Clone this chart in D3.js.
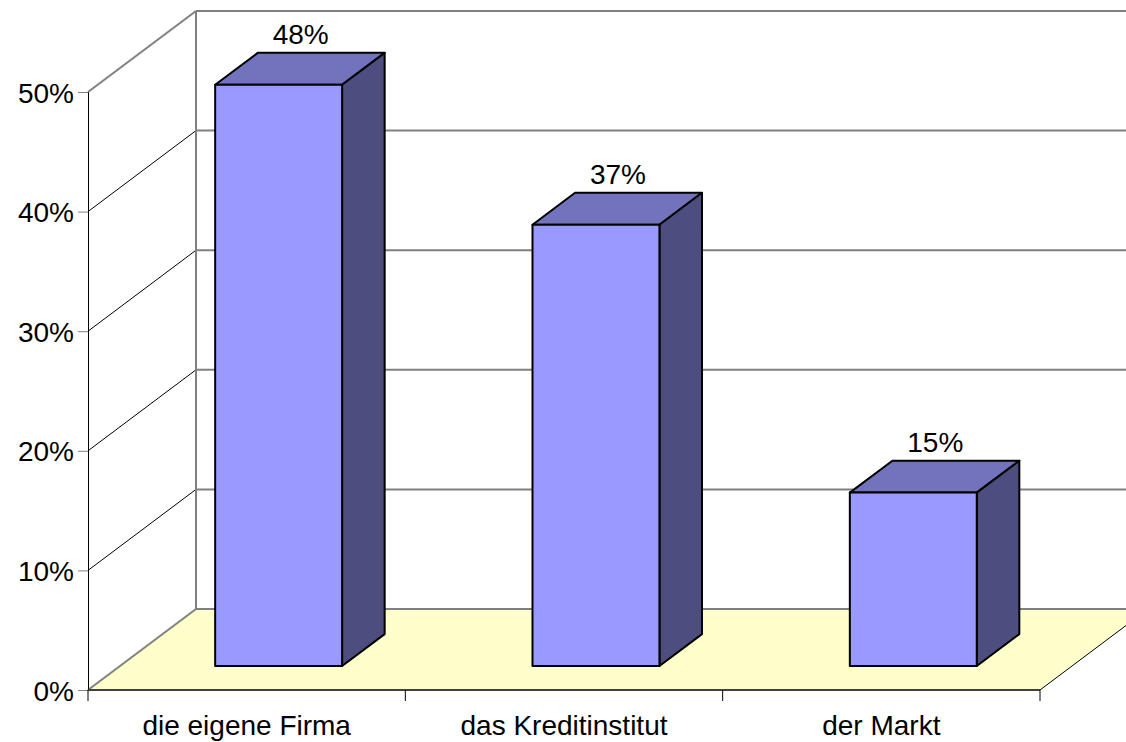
<!DOCTYPE html>
<html>
<head>
<meta charset="utf-8">
<script src="https://d3js.org/d3.v7.min.js"></script>
<style>
  html, body { margin: 0; padding: 0; background: #fff; }
  svg { display: block; }
  text { font-family: "Liberation Sans", Arial, sans-serif; font-size: 28px; fill: #000; }
</style>
</head>
<body>
<svg width="1126" height="742"></svg>
<script>
const categories = ["die eigene Firma", "das Kreditinstitut", "der Markt"];
const values = [48.6, 36.9, 14.5];
const valueLabels = ["48%", "37%", "15%"];
const yTicks = [0, 10, 20, 30, 40, 50];

const svg = d3.select("svg");

const x = d3.scaleBand().domain(categories).range([88, 1040]);
const y = d3.scaleLinear().domain([0, 50]).range([690, 92]);

// depth of the 3d box: z goes 0 (front) to 1 (back wall)
const depthX = 108, depthY = 81;
const px = (xv, z) => xv + depthX * z;
const py = (yv, z) => yv - depthY * z;

const line = d3.line();
const poly = pts => line(pts) + "Z";

const xMin = 88, xMax = 1040;

/* -----------------------------
   Floor and walls
----------------------------- */

svg.append("path")
  .attr("d", poly([[xMin, y(0)], [xMax, y(0)], [px(xMax, 1), py(y(0), 1)], [px(xMin, 1), py(y(0), 1)]]))
  .attr("fill", "#FFFFCC");

// back wall grid
svg.selectAll(".grid")
  .data(yTicks)
  .enter()
  .append("line")
  .attr("x1", px(xMin, 1))
  .attr("x2", px(xMax, 1))
  .attr("y1", d => py(y(d), 1))
  .attr("y2", d => py(y(d), 1))
  .attr("stroke", "#808080")
  .attr("stroke-width", 2);

// side wall grid, the outer two are grey
svg.selectAll(".side")
  .data(yTicks)
  .enter()
  .append("line")
  .attr("x1", px(xMin, 0))
  .attr("x2", px(xMin, 1))
  .attr("y1", d => y(d))
  .attr("y2", d => py(y(d), 1))
  .attr("stroke", d => d === 0 || d === 50 ? "#808080" : "#000")
  .attr("stroke-width", d => d === 0 || d === 50 ? 2 : 1);

// back wall left edge
svg.append("line")
  .attr("x1", px(xMin, 1))
  .attr("x2", px(xMin, 1))
  .attr("y1", py(y(0), 1))
  .attr("y2", py(y(50), 1))
  .attr("stroke", "#808080")
  .attr("stroke-width", 2);

// floor right edge
svg.append("line")
  .attr("x1", px(xMax, 0))
  .attr("x2", px(xMax, 1))
  .attr("y1", y(0))
  .attr("y2", py(y(0), 1))
  .attr("stroke", "#000")
  .attr("stroke-width", 1);

/* -----------------------------
   Axes
----------------------------- */

const yAxis = svg.append("g")
  .attr("transform", `translate(${xMin},0)`)
  .call(d3.axisLeft(y).tickValues(yTicks).tickFormat(d => d + "%").tickSize(10).tickPadding(4));
yAxis.select(".domain").attr("stroke", "#000").attr("stroke-width", 1);
yAxis.selectAll(".tick line").attr("stroke", "#808080").attr("stroke-width", 1);
yAxis.selectAll("text").style("font-size", "28px").style("font-family", null).attr("dy", "0.36em");
yAxis.attr("font-family", null).attr("font-size", null);

// bottom line and category ticks
svg.append("line")
  .attr("x1", xMin)
  .attr("x2", xMax)
  .attr("y1", y(0))
  .attr("y2", y(0))
  .attr("stroke", "#404040")
  .attr("stroke-width", 2);

const xEdges = categories.map(c => x(c)).concat(xMax);
svg.selectAll(".xtick")
  .data(xEdges)
  .enter()
  .append("line")
  .attr("x1", d => d)
  .attr("x2", d => d)
  .attr("y1", y(0))
  .attr("y2", y(0) + 11)
  .attr("stroke", "#000")
  .attr("stroke-width", 1);

svg.selectAll(".xlabel")
  .data(categories)
  .enter()
  .append("text")
  .attr("x", d => x(d) + x.bandwidth() / 2)
  .attr("y", 735)
  .attr("text-anchor", "middle")
  .text(d => d);

/* -----------------------------
   Bars
----------------------------- */

const barShare = 0.4;
const zFront = 0.296, zBack = 0.69;
const barW = x.bandwidth() * barShare;

const bar = svg.selectAll(".bar")
  .data(categories.map((c, i) => ({ c, v: values[i], label: valueLabels[i] })))
  .enter()
  .append("g");

bar.each(function(d) {
  const g = d3.select(this);
  const x0 = x(d.c) + (x.bandwidth() - barW) / 2;
  const x1 = x0 + barW;
  const yT = y(d.v), yB = y(0);

  const faces = [
    { fill: "#7373BD", pts: [[px(x0, zFront), py(yT, zFront)], [px(x1, zFront), py(yT, zFront)], [px(x1, zBack), py(yT, zBack)], [px(x0, zBack), py(yT, zBack)]] },
    { fill: "#4D4D80", pts: [[px(x1, zFront), py(yT, zFront)], [px(x1, zBack), py(yT, zBack)], [px(x1, zBack), py(yB, zBack)], [px(x1, zFront), py(yB, zFront)]] },
    { fill: "#9999FF", pts: [[px(x0, zFront), py(yT, zFront)], [px(x1, zFront), py(yT, zFront)], [px(x1, zFront), py(yB, zFront)], [px(x0, zFront), py(yB, zFront)]] }
  ];

  g.selectAll("path")
    .data(faces)
    .enter()
    .append("path")
    .attr("d", f => poly(f.pts))
    .attr("fill", f => f.fill)
    .attr("stroke", "#000")
    .attr("stroke-width", 2)
    .attr("stroke-linejoin", "round");

  g.append("text")
    .attr("x", px((x0 + x1) / 2, 0.5) - 0)
    .attr("y", py(yT, zBack) - 9)
    .attr("text-anchor", "middle")
    .text(d.label);
});
</script>
</body>
</html>
